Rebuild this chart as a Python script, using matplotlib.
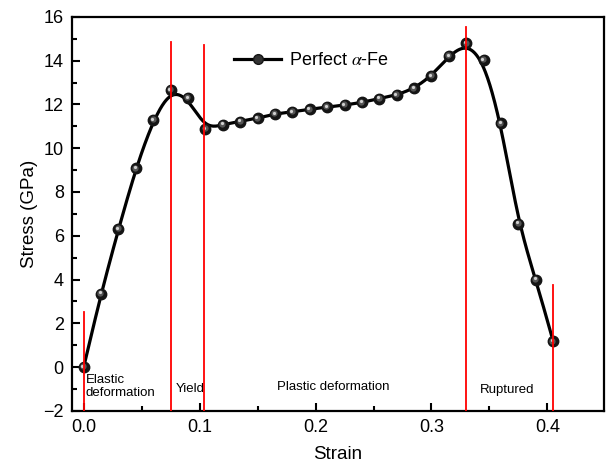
import matplotlib
matplotlib.use("Agg")
import matplotlib.pyplot as plt
import matplotlib.transforms as mtransforms
from matplotlib.lines import Line2D
from matplotlib.ticker import MultipleLocator
import numpy as np

plt.rcParams['font.family'] = ['Liberation Sans', 'DejaVu Sans']
plt.rcParams['mathtext.fontset'] = 'stix'

strain = [0.0, 0.015, 0.03, 0.045, 0.06, 0.075, 0.09, 0.105, 0.12, 0.135,
          0.15, 0.165, 0.18, 0.195, 0.21, 0.225, 0.24, 0.255, 0.27, 0.285,
          0.30, 0.315, 0.33, 0.345, 0.36, 0.375, 0.39, 0.405]
stress = [0.0, 3.36, 6.30, 9.08, 11.30, 12.67, 12.30, 10.87, 11.08, 11.22,
          11.37, 11.57, 11.66, 11.78, 11.88, 11.97, 12.09, 12.27, 12.43, 12.73,
          13.30, 14.22, 14.79, 14.03, 11.14, 6.55, 4.00, 1.18]

# stage boundaries (strain, top of marker line)
bound_x = [0.0, 0.075, 0.104, 0.33, 0.405]
bound_top = [2.5, 14.85, 14.7, 15.55, 3.75]

stage_names = ["Elastic\ndeformation", "Yield", "Plastic deformation", "Ruptured"]
stage_x = [0.0018, 0.079, 0.167, 0.342]
stage_y = [-0.3, -1.0, -0.92, -1.05]


def bspline(px, py, n=40):
    # clamped uniform cubic B-spline through the end points
    P = np.column_stack([px, py])
    P = np.vstack([P[:1], P[:1], P, P[-1:], P[-1:]])
    M = np.array([[-1, 3, -3, 1],
                  [3, -6, 3, 0],
                  [-3, 0, 3, 0],
                  [1, 4, 1, 0]]) / 6.0
    t = np.linspace(0, 1, n)
    T = np.column_stack([t**3, t**2, t, np.ones_like(t)])
    out = []
    for i in range(len(P) - 3):
        out.append(T @ M @ P[i:i + 4])
    out = np.vstack(out)
    return out[:, 0], out[:, 1]


fig = plt.figure(figsize=(6.06, 4.69), dpi=100)
ax = fig.add_axes([0.119, 0.124, 0.878, 0.84])

cx, cy = bspline(strain, stress)
ax.plot(cx, cy, color='black', lw=2.3, zorder=3)

# shaded sphere markers
ax.plot(strain, stress, 'o', color='#151515', ms=7.5, zorder=4)
ax.plot(strain, stress, 'o', color='#555555', ms=4.5, mec='none', zorder=4,
        transform=mtransforms.offset_copy(ax.transData, fig, x=-0.5, y=0.5, units='points'))
ax.plot(strain, stress, 'o', color='#d0d0d0', ms=2.3, mec='none', zorder=4,
        transform=mtransforms.offset_copy(ax.transData, fig, x=-0.9, y=0.9, units='points'))

for bx, bt in zip(bound_x, bound_top):
    ax.plot([bx, bx], [-2, bt], color='red', lw=1.3, zorder=5)

for name, tx, ty in zip(stage_names, stage_x, stage_y):
    ax.text(tx, ty, name, fontsize=9.5, ha='left', va='center' if '\n' not in name else 'top',
            linespacing=1.2)

ax.set_xlim(-0.01, 0.449)
ax.set_ylim(-2, 16)
ax.xaxis.set_major_locator(MultipleLocator(0.1))
ax.xaxis.set_minor_locator(MultipleLocator(0.05))
ax.yaxis.set_major_locator(MultipleLocator(2))
ax.yaxis.set_minor_locator(MultipleLocator(1))
ax.tick_params(which='major', direction='in', length=6, width=1.5, labelsize=13, pad=6)
ax.tick_params(which='minor', direction='in', length=3.5, width=1.5)
for s in ax.spines.values():
    s.set_linewidth(1.6)

ax.set_xlabel("Strain", fontsize=13.5, labelpad=7)
ax.set_ylabel("Stress (GPa)", fontsize=13.5, labelpad=4)

handle = Line2D([], [], color='black', lw=2.3, marker='o', ms=7, mfc='#333333', mec='#151515')
ax.legend([handle], [r"Perfect $\alpha$-Fe"], loc='center left', bbox_to_anchor=(0.305, 0.889),
          frameon=False, fontsize=13, handlelength=2.6, handletextpad=0.45, borderpad=0,
          borderaxespad=0)

fig.savefig("out.png", dpi=100)
